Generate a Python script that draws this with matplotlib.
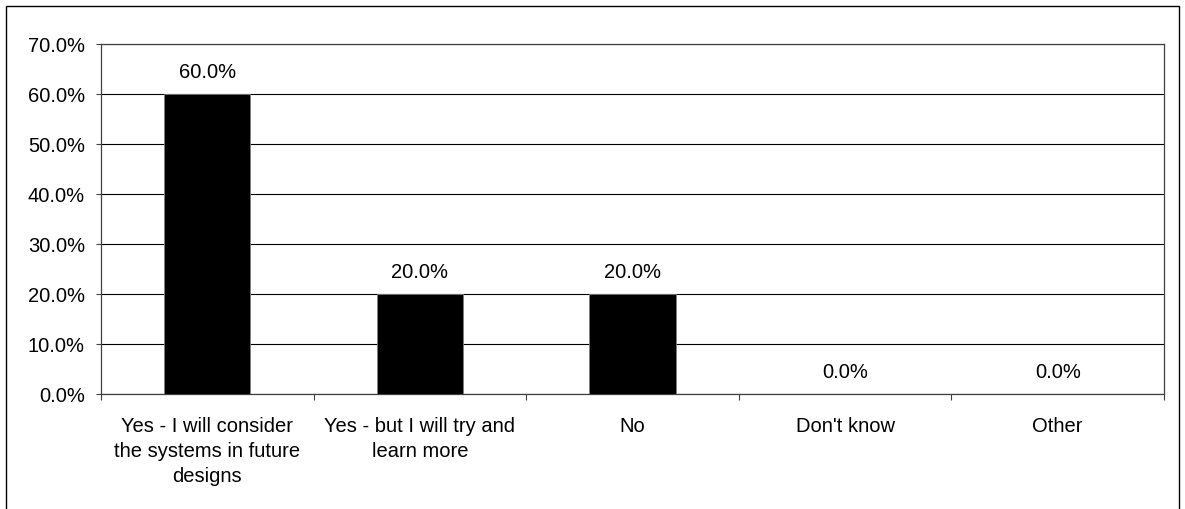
import matplotlib
matplotlib.use("Agg")
import matplotlib.pyplot as plt
from matplotlib.patches import Rectangle
from matplotlib.ticker import FuncFormatter

plt.rcParams['font.family'] = ['Liberation Sans', 'DejaVu Sans']

categories = [
    "Yes - I will consider\nthe systems in future\ndesigns",
    "Yes - but I will try and\nlearn more",
    "No",
    "Don't know",
    "Other",
]
shares = [60.0, 20.0, 20.0, 0.0, 0.0]
y_ticks = [0, 10, 20, 30, 40, 50, 60, 70]

FS = 14.5

fig = plt.figure(figsize=(11.85, 5.10), dpi=100)

# outer chart frame
fig.patches.append(Rectangle((6 / 1185, -0.05), (1179 - 6) / 1185, 1.05 - 7 / 510,
                             transform=fig.transFigure, fill=False,
                             edgecolor="black", linewidth=1.0))

ax = fig.add_axes([101 / 1185, (510 - 395) / 510, (1164 - 101) / 1185, (395 - 45) / 510])

x = list(range(len(categories)))
ax.bar(x, shares, width=0.405, color="black", edgecolor="#808080", linewidth=0.6, zorder=3)

for xi, v in zip(x, shares):
    ax.text(xi, v + 2.5, f"{v:.1f}%", ha="center", va="bottom", fontsize=FS, zorder=4)

ax.set_xlim(-0.5, len(categories) - 0.5)
ax.set_ylim(0, 70)
ax.set_yticks(y_ticks)
ax.yaxis.set_major_formatter(FuncFormatter(lambda v, p: f"{v:.1f}%"))
ax.grid(axis="y", color="black", linewidth=0.8, zorder=0)

ax.set_xticks(x)
ax.set_xticklabels(categories, fontsize=FS, linespacing=1.38)
ax.set_xticks([i + 0.5 for i in range(-1, len(categories))], minor=True)
ax.tick_params(axis="x", which="major", length=0, pad=16)
ax.tick_params(axis="x", which="minor", length=4.5, width=0.8, color="#404040")
ax.tick_params(axis="y", length=3.6, width=0.8, color="#404040", labelsize=FS, pad=8)

for s in ax.spines.values():
    s.set_color("#404040")
    s.set_linewidth(0.9)

fig.savefig("out.png", dpi=100)
